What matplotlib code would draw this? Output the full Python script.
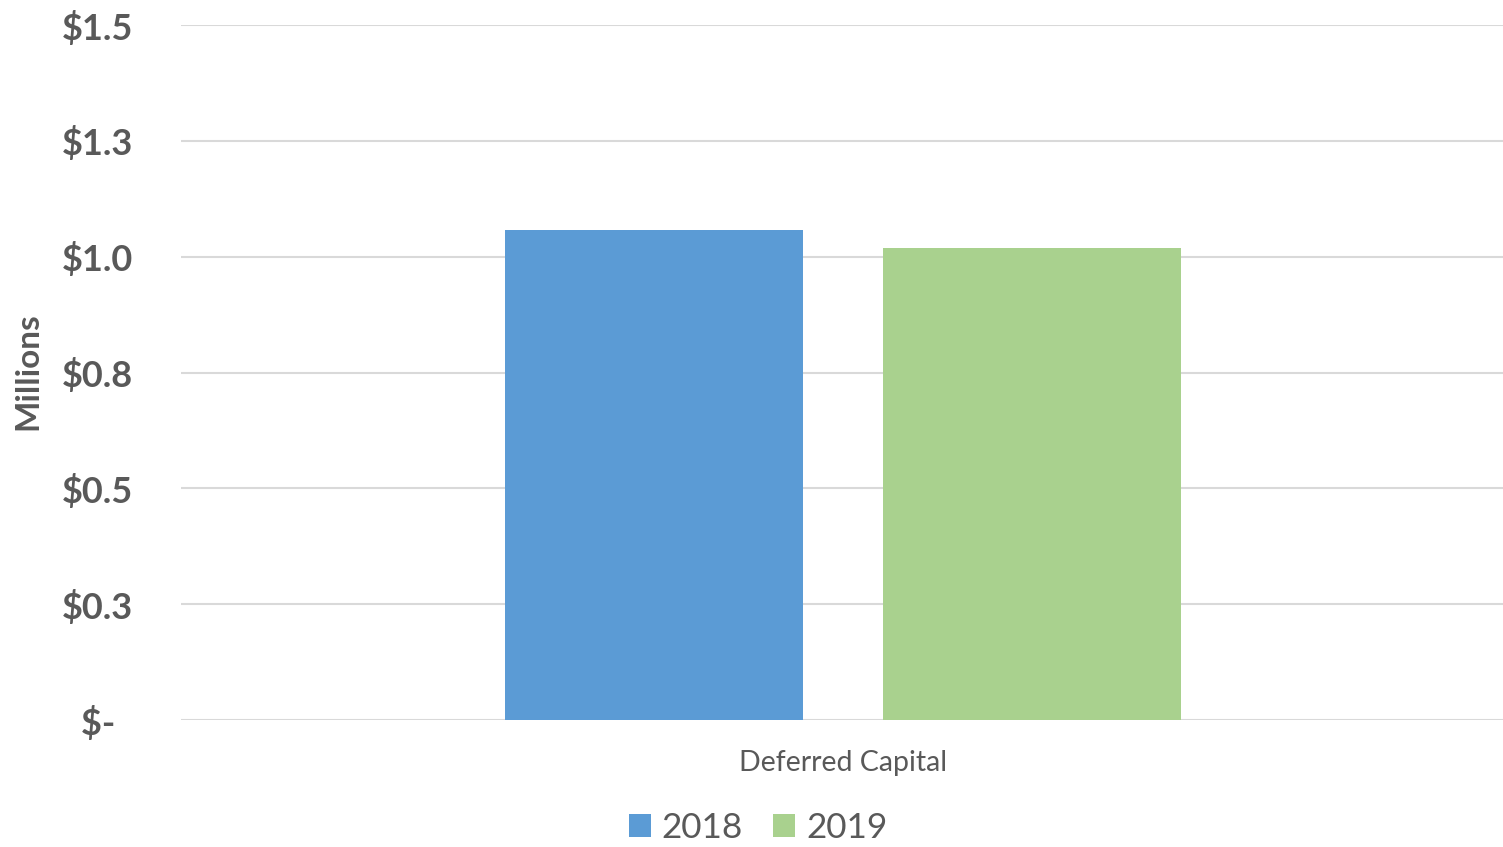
import numpy as np
import matplotlib.pyplot as plt
from matplotlib.ticker import FixedLocator, FuncFormatter

plt.rcParams['font.family'] = ['Lato', 'DejaVu Sans']

# Data (millions)
category = ['Deferred Capital']
years = ['2018', '2019']
values_2018 = [1.058]
values_2019 = [1.019]
colors = ['#5B9BD5', '#A9D18E']
yticks = [0, 0.25, 0.5, 0.75, 1.0, 1.25, 1.5]

fig = plt.figure(figsize=(15.03, 8.47), dpi=100)
ax = fig.add_axes([181 / 1503, 1 - 720 / 847, 1 - 181 / 1503, 695 / 847])

x = np.arange(len(category))
width = 0.2254
offset = 0.143
ax.bar(x - offset, values_2018, width, color=colors[0], label=years[0], zorder=3)
ax.bar(x + offset, values_2019, width, color=colors[1], label=years[1], zorder=3)

ax.set_xlim(-0.5008, 0.4992)
ax.set_ylim(0, 1.5)

def money(v, pos):
    if v == 0:
        return '$-  '
    return '${:.1f}'.format(v + 1e-9)

ax.yaxis.set_major_locator(FixedLocator(yticks))
ax.yaxis.set_major_formatter(FuncFormatter(money))
ax.tick_params(axis='y', length=0, pad=34.5, labelsize=26, labelcolor='#595959')
for lbl in ax.get_yticklabels():
    lbl.set_fontweight('bold')
ax.set_xticks(x)
ax.set_xticklabels(category)
ax.tick_params(axis='x', length=0, pad=21.5, labelsize=20.5, labelcolor='#595959')

ax.grid(axis='y', color='#D9D9D9', linewidth=1.5, zorder=0)
for s in ax.spines.values():
    s.set_visible(False)

fig.text(28 / 1503, 1 - 371 / 847, 'Millions', rotation=90, ha='center', va='center',
         fontsize=24, fontweight='bold', color='#595959')

ax.legend(loc='center', bbox_to_anchor=(758 / 1503, 1 - 828 / 847),
          bbox_transform=fig.transFigure, ncol=2, frameon=False, fontsize=25.3,
          labelcolor='#595959', handlelength=0.62, handleheight=0.62,
          handletextpad=0.32, columnspacing=0.85)

fig.savefig('out.png', dpi=100)
